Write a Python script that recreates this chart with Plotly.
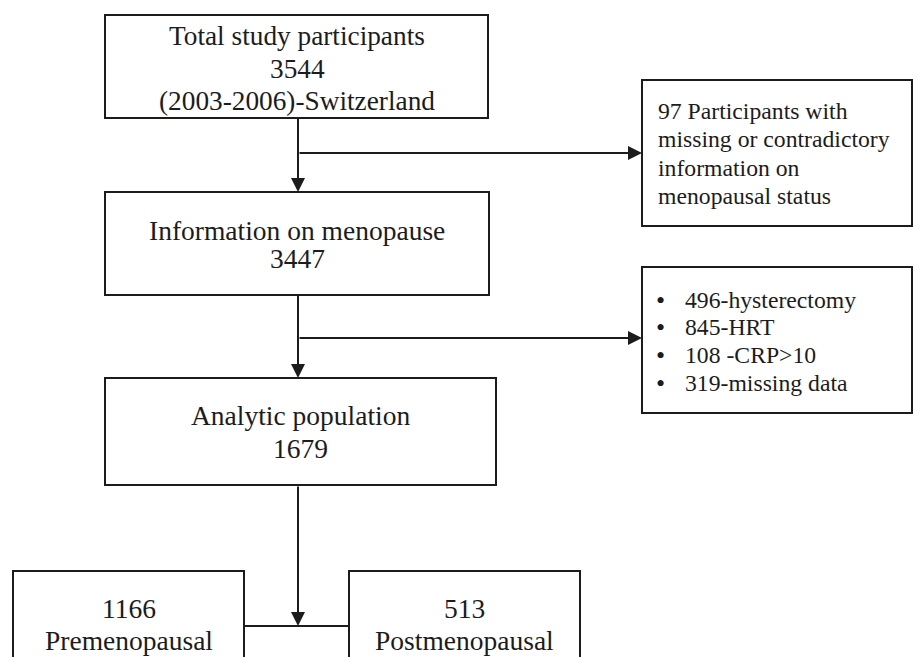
import plotly.graph_objects as go

# ---- content (flowchart values & labels) ----
total_lines = ["Total study participants", "3544", "(2003-2006)-Switzerland"]
menopause_lines = ["Information on menopause", "3447"]
analytic_lines = ["Analytic population", "1679"]
pre_lines = ["1166", "Premenopausal"]
post_lines = ["513", "Postmenopausal"]
excl1_lines = ["97 Participants with", "missing or contradictory", "information on", "menopausal status"]
excl2_items = ["496-hysterectomy", "845-HRT", "108 -CRP>10", "319-missing data"]

W, H = 924, 657
OFF = 8  # page body margin
FONT = "Liberation Serif, Times New Roman, serif"
INK = "#1c1c1c"
LW = 2

fig = go.Figure()
fig.add_trace(go.Scatter(x=[OFF, W], y=[OFF, H], mode="markers", marker=dict(opacity=0),
                         hoverinfo="skip", showlegend=False))

def rect(x0, y0, x1, y1):
    fig.add_shape(type="rect", x0=x0, y0=y0, x1=x1, y1=y1, xref="x", yref="y",
                  line=dict(color=INK, width=LW), fillcolor="white", layer="below")

def line(x0, y0, x1, y1):
    fig.add_shape(type="line", x0=x0, y0=y0, x1=x1, y1=y1, xref="x", yref="y",
                  line=dict(color=INK, width=LW))

def arrow(x0, y0, x1, y1):
    fig.add_annotation(x=x1, y=y1, ax=x0, ay=y0, xref="x", yref="y", axref="x", ayref="y",
                       text="", showarrow=True, arrowhead=2, arrowsize=1.4, arrowwidth=LW,
                       arrowcolor=INK, standoff=0)

def text(x, y, s, size=27.5, anchor="center"):
    fig.add_annotation(x=x, y=y, xref="x", yref="y", text=s, showarrow=False,
                       xanchor=anchor, yanchor="middle",
                       font=dict(family=FONT, size=size, color=INK))

# boxes
rect(105, 15, 488, 118)
rect(105, 192, 489, 295)
rect(105, 378, 496, 485)
rect(13, 571, 244, 720)
rect(349, 571, 580, 720)
rect(642, 80, 912, 226)
rect(642, 267, 912, 413)

# connectors
line(298, 118, 298, 170)
arrow(298, 150, 298, 192)
arrow(298, 153, 642, 153)
line(298, 295, 298, 340)
arrow(298, 330, 298, 378)
arrow(298, 338, 642, 338)
arrow(298, 485, 298, 626)
line(244, 626, 349, 626)

# texts
for s, y in zip(total_lines, [36, 69, 101]):
    text(297, y, s, size=27.3)
for s, y in zip(menopause_lines, [230, 258]):
    text(297, y, s)
for s, y in zip(analytic_lines, [415, 448]):
    text(300, y, s)
for s, y in zip(pre_lines, [608, 640]):
    text(129, y, s)
for s, y in zip(post_lines, [608, 640]):
    text(464, y, s)
for s, y in zip(excl1_lines, [111, 139, 168, 196]):
    text(656, y, s, size=23.7, anchor="left")
for s, y in zip(excl2_items, [300, 327, 355, 383]):
    text(660, y, "•", size=26)
    text(683, y, s, size=23.7, anchor="left")

fig.update_layout(
    width=W - OFF, height=H - OFF, margin=dict(l=0, r=0, t=0, b=0),
    paper_bgcolor="white", plot_bgcolor="white",
    xaxis=dict(range=[OFF, W], visible=False, fixedrange=True),
    yaxis=dict(range=[H, OFF], visible=False, fixedrange=True),
    showlegend=False,
)
fig.write_html("out.html")
